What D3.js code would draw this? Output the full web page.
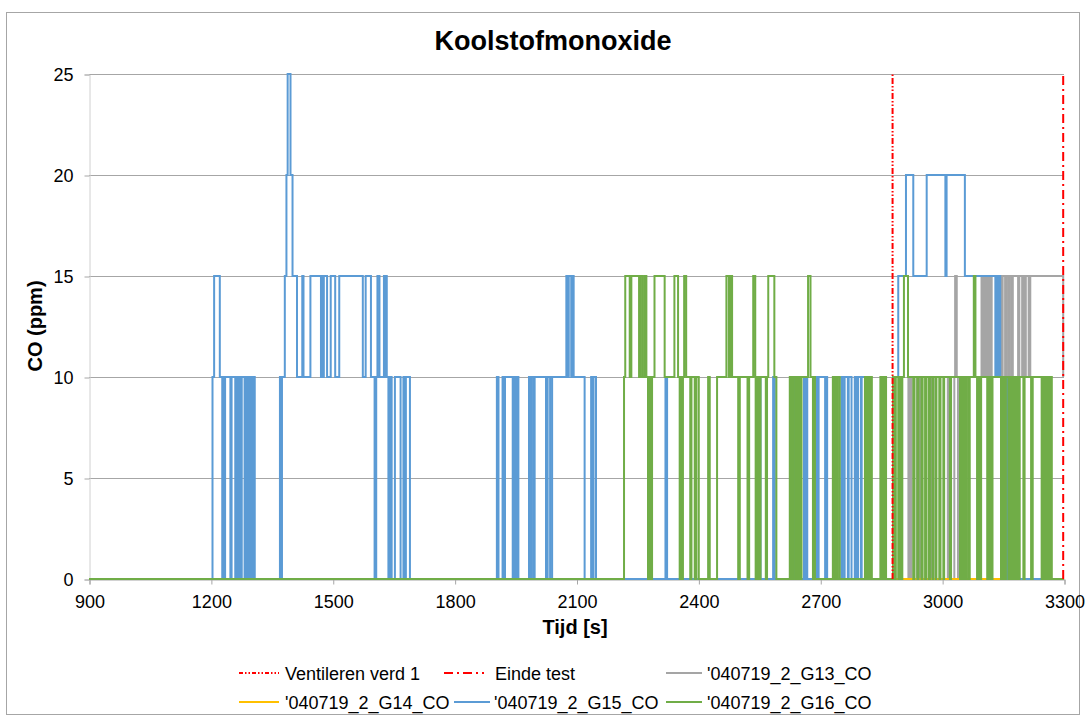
<!DOCTYPE html>
<html>
<head>
<meta charset="utf-8">
<script src="https://cdn.jsdelivr.net/npm/d3@7"></script>
<style>
	body { margin: 0; background: #fff; }
	text { font-family: "Liberation Sans", Arial, sans-serif; fill: #000; }
</style>
</head>
<body>
<svg id="chart" width="1086" height="718"></svg>
<script>
// Koolstofmonoxide - CO sensors, step series stored as [time, value] change points

const xTicks = [900, 1200, 1500, 1800, 2100, 2400, 2700, 3000, 3300];
const yTicks = [0, 5, 10, 15, 20, 25];

const ventilerenTime = 2878;
const eindeTime = 3298;

const g13Changes = [
	[900, 0], [2917, 10], [2919, 0], [2922, 10], [2925, 0], [2938, 10], [2941, 0],
	[2944, 10], [2947, 0], [2970, 10], [2973, 0], [2976, 10], [2979, 0], [3014, 10],
	[3018, 0], [3030, 10], [3032, 15], [3036, 10], [3039, 0], [3095, 10], [3097, 15],
	[3100, 10], [3103, 15], [3106, 10], [3109, 15], [3112, 10], [3116, 15], [3119, 10],
	[3122, 15], [3134, 10], [3138, 15], [3146, 10], [3149, 15], [3155, 10], [3158, 15],
	[3163, 10], [3166, 15], [3171, 10], [3174, 15], [3187, 10], [3190, 15], [3197, 10],
	[3200, 15], [3203, 10], [3206, 15], [3213, 10], [3217, 15], [3298, 10],
];

const g14Changes = [[900, 0]];

const g15Changes = [
	[900, 0], [1204, 10], [1208, 15], [1222, 10], [1228, 0], [1230, 10], [1232, 0],
	[1235, 10], [1248, 0], [1251, 10], [1260, 0], [1262, 10], [1264, 0], [1266, 10],
	[1268, 0], [1271, 10], [1273, 0], [1276, 10], [1283, 0], [1285, 10], [1287, 0],
	[1290, 10], [1294, 0], [1296, 10], [1298, 0], [1300, 10], [1303, 0], [1306, 10],
	[1308, 0],
	[1370, 10], [1373, 0], [1375, 10], [1382, 15], [1386, 20], [1389, 25], [1396, 20],
	[1401, 15], [1412, 10], [1425, 15], [1428, 10], [1445, 15], [1471, 10], [1473, 15],
	[1476, 10], [1478, 15], [1486, 10], [1495, 15], [1506, 10], [1516, 15], [1574, 10],
	[1581, 15], [1594, 10], [1603, 0], [1607, 10], [1610, 15], [1615, 10], [1626, 15],
	[1628, 10], [1630, 15], [1633, 10], [1637, 0], [1641, 10], [1645, 0], [1653, 10],
	[1667, 0], [1674, 10], [1678, 0], [1680, 10], [1690, 0],
	[1904, 10], [1908, 0], [1918, 10], [1921, 0], [1924, 10], [1943, 0], [1947, 10],
	[1951, 0], [1954, 10], [1957, 0], [1983, 10], [1986, 0], [1989, 10], [1994, 0],
	[1997, 10], [2025, 0], [2029, 10], [2035, 0], [2040, 10], [2075, 15], [2079, 10],
	[2081, 15], [2087, 10], [2089, 15], [2093, 10], [2120, 0], [2136, 10], [2139, 0],
	[2142, 10], [2148, 0],
	[2319, 10], [2323, 0], [2549, 10], [2553, 0], [2584, 10], [2588, 0], [2637, 10],
	[2641, 0], [2643, 10], [2646, 0], [2660, 10], [2663, 0], [2665, 10], [2668, 0],
	[2690, 10], [2694, 0], [2696, 10], [2712, 0], [2714, 10], [2717, 0], [2736, 10],
	[2740, 0], [2752, 10], [2755, 0], [2760, 10], [2768, 0], [2770, 10], [2777, 0],
	[2785, 10], [2789, 0], [2793, 10], [2800, 0], [2802, 10], [2812, 0],
	[2884, 10], [2892, 15], [2911, 20], [2929, 15], [2962, 20], [3008, 15], [3011, 20],
	[3056, 15], [3131, 10], [3134, 15], [3137, 10], [3140, 15], [3143, 10], [3159, 0],
	[3162, 10], [3189, 0],
];

const g16Changes = [
	[900, 0], [2217, 10], [2220, 15], [2231, 10], [2235, 15], [2254, 10], [2258, 15],
	[2263, 10], [2268, 15], [2272, 10], [2276, 0], [2280, 10], [2282, 0], [2286, 10],
	[2292, 15], [2317, 10], [2341, 15], [2350, 10], [2354, 0], [2357, 10], [2360, 0],
	[2362, 10], [2365, 15], [2370, 10], [2380, 0], [2383, 10], [2391, 0], [2395, 10],
	[2401, 0], [2424, 10], [2428, 0], [2446, 10], [2469, 15], [2475, 10], [2479, 15],
	[2483, 10], [2498, 0], [2502, 10], [2521, 0], [2525, 10], [2535, 15], [2540, 10],
	[2541, 0], [2545, 10], [2549, 0], [2553, 10], [2566, 0], [2569, 10], [2572, 15],
	[2587, 10], [2592, 0],
	[2625, 10], [2628, 0], [2630, 10], [2633, 0], [2635, 10], [2640, 0], [2643, 10],
	[2646, 0], [2649, 10], [2652, 0], [2654, 10], [2670, 15], [2676, 10], [2682, 0],
	[2685, 10], [2687, 0], [2731, 10], [2734, 0], [2736, 10], [2740, 0], [2743, 10],
	[2748, 0], [2810, 10], [2813, 0], [2815, 10], [2818, 0], [2820, 10], [2823, 0],
	[2825, 10], [2827, 0], [2848, 10], [2851, 0], [2853, 10], [2856, 0], [2858, 10],
	[2862, 0],
	[2879, 10], [2884, 0], [2886, 10], [2892, 0], [2896, 10], [2900, 0], [2902, 10],
	[2906, 15], [2916, 10], [2929, 0], [2932, 10], [2939, 0], [2942, 10], [2949, 0],
	[2952, 10], [2958, 0], [2961, 10], [2967, 0], [2970, 10], [2976, 0], [2978, 10],
	[2984, 0], [2986, 10], [2993, 0], [2996, 10], [3003, 0], [3005, 10], [3019, 0],
	[3022, 10], [3044, 0], [3046, 10], [3050, 0], [3053, 10], [3057, 0], [3059, 10],
	[3064, 0], [3068, 10], [3078, 15], [3082, 10], [3086, 0], [3090, 10], [3093, 0],
	[3096, 10], [3111, 0], [3113, 10], [3116, 0], [3118, 10], [3121, 0], [3124, 10],
	[3145, 0], [3147, 10], [3150, 0], [3152, 10], [3155, 0], [3157, 10], [3163, 0],
	[3165, 10], [3168, 0], [3170, 10], [3173, 0], [3175, 10], [3178, 0], [3180, 10],
	[3182, 0], [3185, 10], [3187, 0], [3191, 10], [3200, 0], [3203, 10], [3219, 0],
	[3223, 10], [3245, 0], [3247, 10], [3250, 0], [3252, 10], [3255, 0], [3257, 10],
	[3260, 0], [3262, 10], [3265, 0], [3268, 10], [3270, 0],
];

const seriesNames = ["'040719_2_G13_CO", "'040719_2_G14_CO", "'040719_2_G15_CO", "'040719_2_G16_CO"];
const seriesColors = ["#a5a5a5", "#ffc000", "#5b9bd5", "#70ad47"];
const seriesChanges = [g13Changes, g14Changes, g15Changes, g16Changes];

function whenDocumentLoaded(action) {
	if (document.readyState === "loading") {
		document.addEventListener("DOMContentLoaded", action);
	} else {
		action();
	}
}

function drawChart() {
	const svg = d3.select("#chart");

	const left = 89, right = 1064, top = 74, bottom = 579;
	const x = d3.scaleLinear().domain([900, 3300]).range([left, right]);
	const y = d3.scaleLinear().domain([0, 25]).range([bottom, top]);

	// chart border
	svg.append("rect")
		.attr("x", 6.5).attr("y", 12.5)
		.attr("width", 1073).attr("height", 702)
		.attr("fill", "#fff").attr("stroke", "#a6a6a6");

	// title
	svg.append("text")
		.attr("x", 553).attr("y", 50)
		.attr("text-anchor", "middle")
		.style("font-size", "27px").style("font-weight", "bold")
		.text("Koolstofmonoxide");

	// horizontal grid
	svg.append("g")
		.selectAll("line")
		.data(yTicks.filter((d) => d > 0))
		.join("line")
		.attr("x1", left).attr("x2", right)
		.attr("y1", (d) => Math.round(y(d)) + 0.5).attr("y2", (d) => Math.round(y(d)) + 0.5)
		.attr("stroke", "#a6a6a6");

	// y axis
	const yAxis = svg.append("g")
		.attr("transform", `translate(${left + 0.5},0.5)`)
		.call(d3.axisLeft(y).tickValues(yTicks).tickSize(5).tickPadding(11).tickFormat(d3.format("d")));
	yAxis.select(".domain").attr("stroke", "#d0d0d0");
	yAxis.selectAll(".tick line").attr("stroke", "#a6a6a6");
	yAxis.selectAll("text").style("font-size", "18px").style("font-family", "Liberation Sans, Arial, sans-serif");

	// x axis
	const xAxis = svg.append("g")
		.attr("transform", `translate(0.5,${bottom + 0.5})`)
		.call(d3.axisBottom(x).tickValues(xTicks).tickSize(5).tickPadding(11).tickFormat(d3.format("d")));
	xAxis.select(".domain").attr("stroke", "#a6a6a6");
	xAxis.selectAll(".tick line").attr("stroke", "#a6a6a6");
	xAxis.selectAll("text").style("font-size", "18px").style("font-family", "Liberation Sans, Arial, sans-serif");

	// axis titles
	svg.append("text")
		.attr("x", 575).attr("y", 634)
		.attr("text-anchor", "middle")
		.style("font-size", "20px").style("font-weight", "bold")
		.text("Tijd [s]");
	svg.append("text")
		.attr("transform", "translate(42,326) rotate(-90)")
		.attr("text-anchor", "middle")
		.style("font-size", "20px").style("font-weight", "bold")
		.text("CO (ppm)");

	// series
	const line = d3.line()
		.x((d) => x(d[0]))
		.y((d) => y(d[1]))
		.curve(d3.curveStepAfter);

	const plot = svg.append("g");
	seriesChanges.forEach((changes, i) => {
		const pts = changes.concat([[3300, changes[changes.length - 1][1]]]);
		plot.append("path")
			.attr("d", line(pts))
			.attr("fill", "none")
			.attr("stroke", seriesColors[i])
			.attr("stroke-width", 2);
	});

	// event lines
	const events = [
		{ t: ventilerenTime, dash: "6,2,1.5,2,1.5,2" },
		{ t: eindeTime, dash: "9,4,2,4" },
	];
	svg.append("g")
		.selectAll("line")
		.data(events)
		.join("line")
		.attr("x1", (d) => x(d.t)).attr("x2", (d) => x(d.t))
		.attr("y1", y(0)).attr("y2", y(25))
		.attr("stroke", "#ff0000")
		.attr("stroke-width", 2)
		.attr("stroke-dasharray", (d) => d.dash);

	// legend
	const legendItems = [
		{ name: "Ventileren verd 1", color: "#ff0000", dash: "4,2,1.5,2,1.5,2", x1: 239, x2: 279, tx: 285, row: 0 },
		{ name: "Einde test", color: "#ff0000", dash: "9,4,2,4", x1: 444, x2: 484, tx: 495, row: 0 },
		{ name: seriesNames[0], color: seriesColors[0], dash: null, x1: 666, x2: 702, tx: 707, row: 0 },
		{ name: seriesNames[1], color: seriesColors[1], dash: null, x1: 239, x2: 279, tx: 285, row: 1 },
		{ name: seriesNames[2], color: seriesColors[2], dash: null, x1: 454, x2: 490, tx: 494, row: 1 },
		{ name: seriesNames[3], color: seriesColors[3], dash: null, x1: 666, x2: 702, tx: 707, row: 1 },
	];
	const rowY = [673, 702];
	const legend = svg.append("g");
	legend.selectAll("line")
		.data(legendItems)
		.join("line")
		.attr("x1", (d) => d.x1).attr("x2", (d) => d.x2)
		.attr("y1", (d) => rowY[d.row]).attr("y2", (d) => rowY[d.row])
		.attr("stroke", (d) => d.color)
		.attr("stroke-width", 2)
		.attr("stroke-dasharray", (d) => d.dash);
	legend.selectAll("text")
		.data(legendItems)
		.join("text")
		.attr("x", (d) => d.tx)
		.attr("y", (d) => rowY[d.row] + 6.5)
		.style("font-size", "18px")
		.text((d) => d.name);
}

whenDocumentLoaded(drawChart);
</script>
</body>
</html>
